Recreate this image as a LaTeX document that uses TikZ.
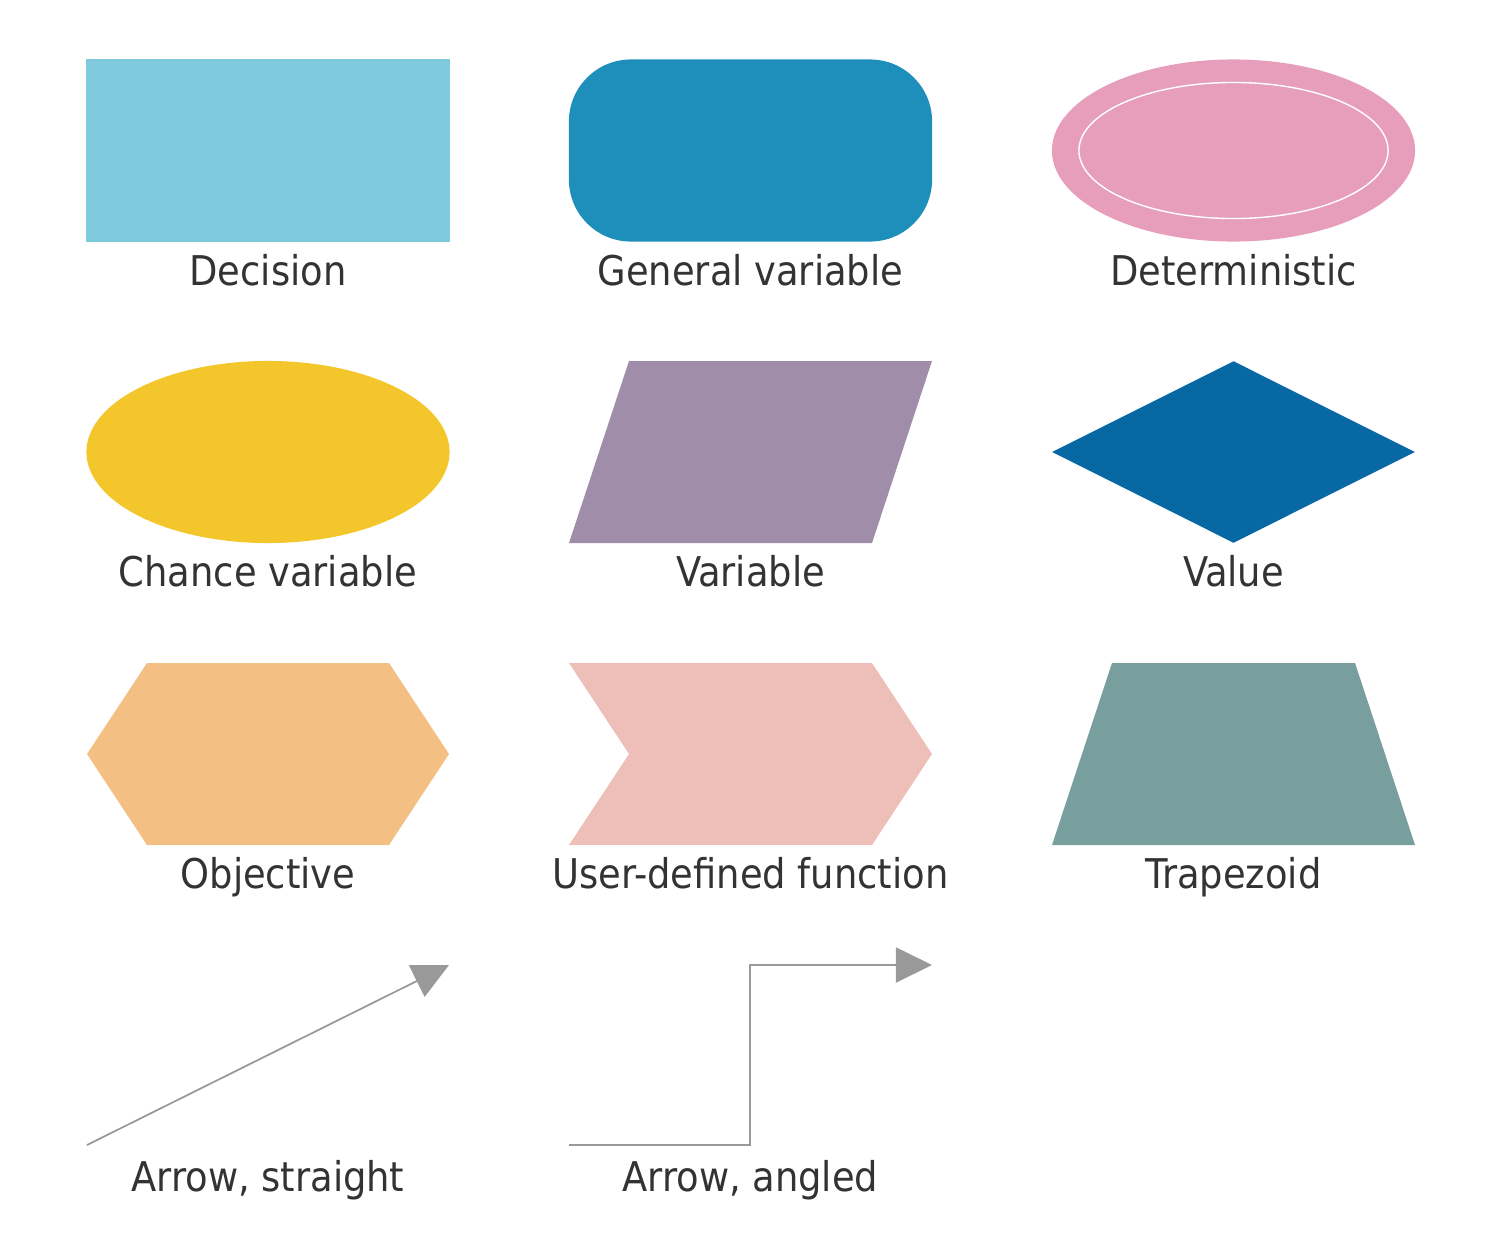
\documentclass[tikz,border=0pt]{standalone}
\usepackage{fontspec}
\setmainfont{DejaVu Sans Condensed}
\usepackage{tikz}
\usetikzlibrary{shapes.geometric,arrows.meta,positioning}
\definecolor{decisionc}{HTML}{7FCADD}
\definecolor{generalc}{HTML}{1E8EBA}
\definecolor{determc}{HTML}{E79EBA}
\definecolor{chancec}{HTML}{F3C62B}
\definecolor{variablec}{HTML}{A08DA9}
\definecolor{valuec}{HTML}{0868A3}
\definecolor{objectc}{HTML}{F4BF82}
\definecolor{userc}{HTML}{EEBFB8}
\definecolor{trapc}{HTML}{799E9E}
\definecolor{textc}{HTML}{333333}
\definecolor{linec}{HTML}{999999}
\tikzstyle{item} = [draw=none, inner sep=0pt, minimum width=3.63cm, minimum height=1.82cm]
\tikzstyle{caption} = [text=textc, anchor=base, inner sep=0pt, font=\fontsize{11.65}{14}\selectfont]
\tikzstyle{link} = [draw=linec, line width=0.5pt, -{Triangle[length=3.6mm, width=3.5mm]}, linec]

\begin{document}
\begin{tikzpicture}[x=0.01cm, y=-0.01cm]
	\useasboundingbox (0,0) rectangle (1500,1236);
	% first row
	\node[item, fill=decisionc] (dec) at (268,150.5) {};
	\node[item, fill=generalc, rounded corners=0.62cm] (gen) at (750.5,150.5) {};
	\node[item, ellipse, fill=determc] (det) at (1233.5,150.5) {};
	\node[ellipse, draw=white, line width=0.4pt, inner sep=0pt, minimum width=3.09cm, minimum height=1.36cm] (detin) at (det) {};
	\node[caption] (decl) at (268,285) {Decision};
	\node[caption] (genl) at (750.5,285) {General variable};
	\node[caption] (detl) at (1233.5,285) {Deterministic};
	% second row
	\node[item, ellipse, fill=chancec] (cha) at (268,452) {};
	\fill[variablec] (629,361) -- (932,361) -- (872,543) -- (569,543) -- cycle;
	\node[item, diamond, aspect=2, fill=valuec] (val) at (1233.5,452) {};
	\node[caption] (chal) at (268,586) {Chance variable};
	\node[caption] (varl) at (750.5,586) {Variable};
	\node[caption] (vall) at (1233.5,586) {Value};
	% third row
	\fill[objectc] (87,754) -- (147,663) -- (389,663) -- (449,754) -- (389,845) -- (147,845) -- cycle;
	\fill[userc] (569,663) -- (872,663) -- (932,754) -- (872,845) -- (569,845) -- (629,754) -- cycle;
	\fill[trapc] (1112,663) -- (1355,663) -- (1415,845) -- (1052,845) -- cycle;
	\node[caption] (objl) at (268,888) {Objective};
	\node[caption] (usel) at (750.5,888) {User-defined function};
	\node[caption] (trapl) at (1233.5,888) {Trapezoid};
	% arrows
	\coordinate (s1) at (87,1145);
	\coordinate (e1) at (449,965);
	\coordinate (s2) at (569,1145);
	\coordinate (e2) at (932,965);
	\draw[link] (s1) -- (e1);
	\draw[link] (s2) -- ++(181,0) |- (e2);
	\node[caption] (strl) at (268,1191) {Arrow, straight};
	\node[caption] (angl) at (750.5,1191) {Arrow, angled};
\end{tikzpicture}
\end{document}
